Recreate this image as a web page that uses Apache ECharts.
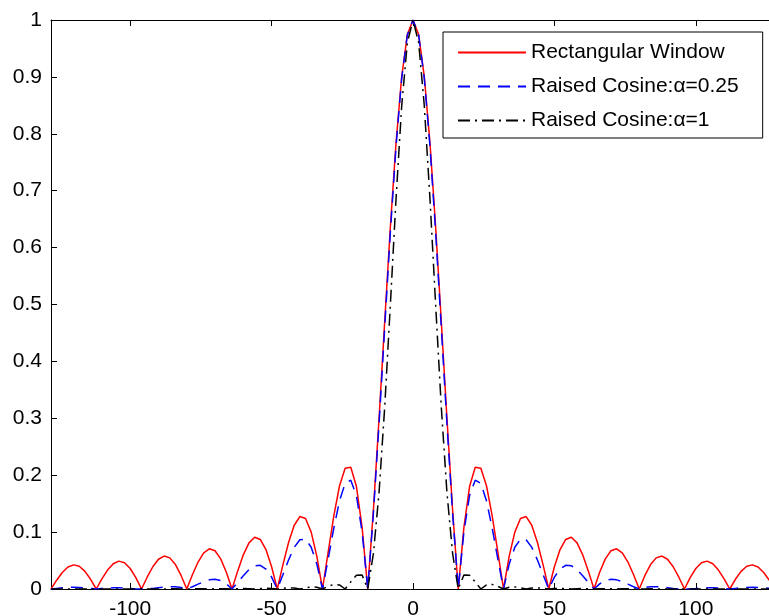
<!DOCTYPE html>
<html>
<head>
<meta charset="utf-8">
<script src="https://cdn.jsdelivr.net/npm/echarts@6/dist/echarts.min.js"></script>
<style>html,body{margin:0;padding:0;background:#fff;}#c{width:769px;height:616px;}</style>
</head>
<body>
<div id="c"></div>
<script>
// x positions (frequency index)
var xValues = [-128,-126,-124,-122,-120,-118,-116,-114,-112,-110,-108,-106,-104,-102,-100,-98,-96,-94,-92,-90,-88,-86,-84,-82,-80,-78,-76,-74,-72,-70,-68,-66,-64,-62,-60,-58,-56,-54,-52,-50,-48,-46,-44,-42,-40,-38,-36,-34,-32,-30,-28,-26,-24,-22,-20,-18,-16,-14,-12,-10,-8,-6,-4,-2,0,2,4,6,8,10,12,14,16,18,20,22,24,26,28,30,32,34,36,38,40,42,44,46,48,50,52,54,56,58,60,62,64,66,68,70,72,74,76,78,80,82,84,86,88,90,92,94,96,98,100,102,104,106,108,110,112,114,116,118,120,122,124,126,128];

var rectWindow = [
0,0.0155,0.0290,0.0386,0.0424,0.0399,0.0310,0.0171,
0,0.0177,0.0333,0.0444,0.0490,0.0461,0.0360,0.0199,
0,0.0207,0.0391,0.0523,0.0579,0.0547,0.0429,0.0238,
0,0.0250,0.0474,0.0636,0.0707,0.0672,0.0530,0.0295,
0,0.0314,0.0600,0.0811,0.0909,0.0871,0.0693,0.0390,
0,0.0424,0.0818,0.1120,0.1273,0.1238,0.1000,0.0573,
0,0.0650,0.1286,0.1810,0.2122,0.2139,0.1801,0.1083,
0,0.1392,0.3001,0.4705,0.6366,0.7842,0.9003,0.9745,
1,
0.9745,0.9003,0.7842,0.6366,0.4705,0.3001,0.1392,0,
0.1083,0.1801,0.2139,0.2122,0.1810,0.1286,0.0650,0,
0.0573,0.1000,0.1238,0.1273,0.1120,0.0818,0.0424,0,
0.0390,0.0693,0.0871,0.0909,0.0811,0.0600,0.0314,0,
0.0295,0.0530,0.0672,0.0707,0.0636,0.0474,0.0250,0,
0.0238,0.0429,0.0547,0.0579,0.0523,0.0391,0.0207,0,
0.0199,0.0360,0.0461,0.0490,0.0444,0.0333,0.0177,0,
0.0171,0.0310,0.0399,0.0424,0.0386,0.0290,0.0155,0];

var raisedCos025 = [
0,0.0011,0.0020,0.0027,0.0030,0.0028,0.0021,0.0011,
0,0.0010,0.0018,0.0021,0.0020,0.0015,0.0008,0.0002,
0,0.0003,0.0010,0.0022,0.0034,0.0041,0.0040,0.0027,
0,0.0039,0.0085,0.0129,0.0161,0.0170,0.0148,0.0090,
0,0.0113,0.0234,0.0340,0.0407,0.0416,0.0351,0.0209,
0,0.0252,0.0510,0.0731,0.0866,0.0876,0.0734,0.0436,
0,0.0526,0.1070,0.1546,0.1856,0.1912,0.1642,0.1005,
0,0.1331,0.2904,0.4599,0.6274,0.7778,0.8970,0.9736,
1,
0.9736,0.8970,0.7778,0.6274,0.4599,0.2904,0.1331,0,
0.1005,0.1642,0.1912,0.1856,0.1546,0.1070,0.0526,0,
0.0436,0.0734,0.0876,0.0866,0.0731,0.0510,0.0252,0,
0.0209,0.0351,0.0416,0.0407,0.0340,0.0234,0.0113,0,
0.0090,0.0148,0.0170,0.0161,0.0129,0.0085,0.0039,0,
0.0027,0.0040,0.0041,0.0034,0.0022,0.0010,0.0003,0,
0.0002,0.0008,0.0015,0.0020,0.0021,0.0018,0.0010,0,
0.0011,0.0021,0.0028,0.0030,0.0027,0.0020,0.0011,0];

var raisedCos1 = [
0,0.0001,0.0001,0.0001,0,0.0001,0.0001,0.0001,
0,0.0001,0.0001,0.0001,0,0.0001,0.0002,0.0001,
0,0.0001,0.0002,0.0002,0,0.0002,0.0003,0.0002,
0,0.0002,0.0004,0.0003,0,0.0003,0.0005,0.0004,
0,0.0005,0.0008,0.0006,0,0.0007,0.0012,0.0009,
0,0.0012,0.0020,0.0016,0,0.0022,0.0037,0.0031,
0,0.0046,0.0081,0.0072,0,0.0125,0.0243,0.0246,
0,0.0624,0.1698,0.3201,0.5000,0.6859,0.8488,0.9603,
1,
0.9603,0.8488,0.6859,0.5000,0.3201,0.1698,0.0624,0,
0.0246,0.0243,0.0125,0,0.0072,0.0081,0.0046,0,
0.0031,0.0037,0.0022,0,0.0016,0.0020,0.0012,0,
0.0009,0.0012,0.0007,0,0.0006,0.0008,0.0005,0,
0.0004,0.0005,0.0003,0,0.0003,0.0004,0.0002,0,
0.0002,0.0003,0.0002,0,0.0002,0.0002,0.0001,0,
0.0001,0.0002,0.0001,0,0.0001,0.0001,0.0001,0,
0.0001,0.0001,0.0001,0,0.0001,0.0001,0.0001,0];

var seriesNames = ['Rectangular Window', 'Raised Cosine:\u03b1=0.25', 'Raised Cosine:\u03b1=1'];
var xTickValues = [-100, -50, 0, 50, 100];

function pairs(ys) { return xValues.map(function (x, i) { return [x, ys[i]]; }); }

var FONT = 'Liberation Sans, Arial, sans-serif';
var chart = echarts.init(document.getElementById('c'), null, { renderer: 'canvas' });
var axisLine = { show: true, onZero: false, lineStyle: { color: '#000', width: 1 } };
var tick = { show: true, inside: true, length: 6, lineStyle: { color: '#000' } };
var xLabelFmt = function (v) { return xTickValues.indexOf(v) >= 0 ? String(v) : ''; };

chart.setOption({
  animation: false,
  backgroundColor: '#fff',
  grid: { left: 51, top: 20, right: -6, bottom: 27, containLabel: false, outerBoundsMode: 'none' },
  legend: {
    orient: 'vertical', left: 443, top: 32,
    backgroundColor: '#fff', borderColor: '#000', borderWidth: 1, borderRadius: 0,
    padding: [10, 24, 7, 14],
    itemWidth: 68, itemHeight: 20, itemGap: 13, itemTextGap: 7,
    itemStyle: { opacity: 0, borderWidth: 0 },
    textStyle: { fontFamily: FONT, fontSize: 21, color: '#000' },
    data: seriesNames
  },
  xAxis: [{
    type: 'value', min: -128, max: 128, splitNumber: 5, position: 'bottom',
    axisLine: axisLine, splitLine: { show: false }, axisTick: tick,
    axisLabel: { fontFamily: FONT, fontSize: 21, color: '#000', margin: 10, showMinLabel: false, showMaxLabel: false, formatter: xLabelFmt }
  }, {
    type: 'value', min: -128, max: 128, splitNumber: 5, position: 'top',
    axisLine: axisLine, splitLine: { show: false }, axisTick: tick,
    axisLabel: { show: false }
  }],
  yAxis: [{
    type: 'value', min: 0, max: 1, interval: 0.1, position: 'left',
    axisLine: axisLine, splitLine: { show: false }, axisTick: tick,
    axisLabel: { fontFamily: FONT, fontSize: 21, color: '#000', margin: 9 }
  }, {
    type: 'value', min: 0, max: 1, interval: 0.1, position: 'right',
    axisLine: axisLine, splitLine: { show: false }, axisTick: tick,
    axisLabel: { show: false }
  }],
  series: [{
    name: seriesNames[0], type: 'line', data: pairs(rectWindow),
    symbol: 'none', showSymbol: false, smooth: false, z: 2,
    lineStyle: { color: '#ff0000', width: 1.5, type: 'solid' }, itemStyle: { color: '#ff0000' }
  }, {
    name: seriesNames[1], type: 'line', data: pairs(raisedCos025),
    symbol: 'none', showSymbol: false, smooth: false, z: 3,
    lineStyle: { color: '#0000ff', width: 1.5, type: [12, 8] }, itemStyle: { color: '#0000ff' }
  }, {
    name: seriesNames[2], type: 'line', data: pairs(raisedCos1),
    symbol: 'none', showSymbol: false, smooth: false, z: 4,
    lineStyle: { color: '#000000', width: 1.5, type: [12, 5, 2, 5] }, itemStyle: { color: '#000000' }
  }]
});
</script>
</body>
</html>
